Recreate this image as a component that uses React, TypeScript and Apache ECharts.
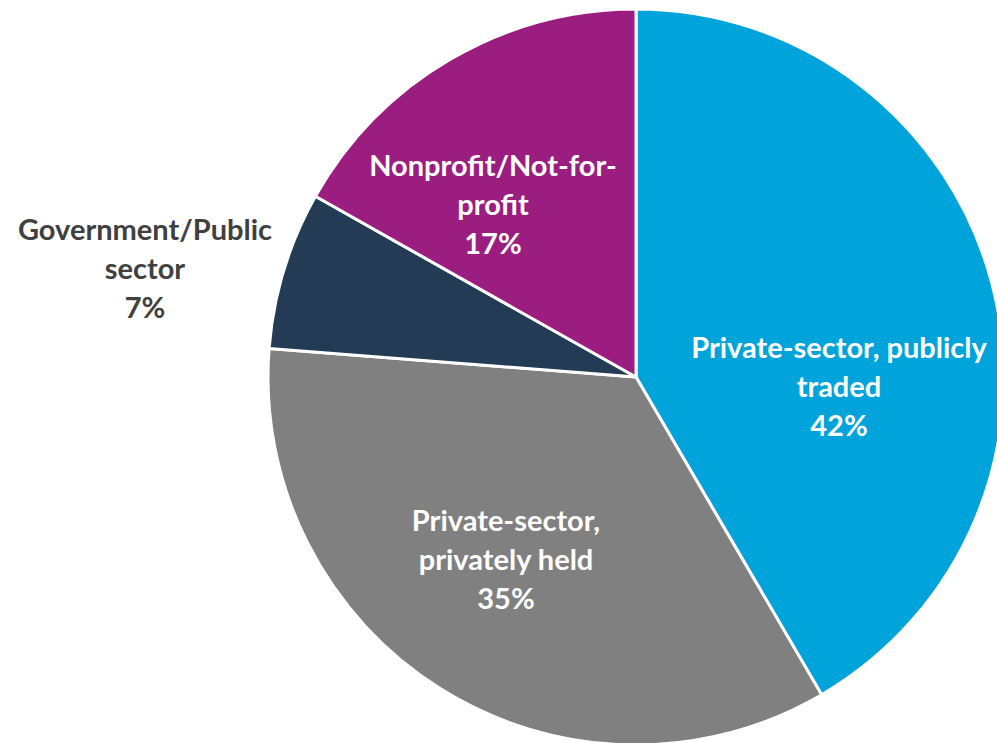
import React, { useEffect, useRef } from "react";
import * as echarts from "echarts";

const categories = [
  "Private-sector, publicly\ntraded",
  "Private-sector,\nprivately held",
  "Government/Public\nsector",
  "Nonprofit/Not-for-\nprofit",
];
const values = [42, 35, 7, 17];
const colors = ["#00A3DA", "#808080", "#243B55", "#9B1D7F"];
const labelColors = ["#FFFFFF", "#FFFFFF", "#404040", "#FFFFFF"];
const labelPos: [number, number][] = [
  [839, 385],
  [506, 558],
  [145, 267],
  [493, 203],
];

export default function App() {
  const ref = useRef<HTMLDivElement>(null);
  useEffect(() => {
    if (!ref.current) return;
    const chart = echarts.init(ref.current, undefined, { renderer: "svg" });
    chart.setOption({
      animation: false,
      backgroundColor: "#FFFFFF",
      series: [
        {
          type: "pie",
          center: [636, 377],
          radius: [0, 368],
          startAngle: 90,
          clockwise: true,
          data: categories.map((c, i) => ({
            name: c,
            value: values[i],
            itemStyle: { color: colors[i] },
            label: { color: labelColors[i] },
          })),
          itemStyle: { borderColor: "#FFFFFF", borderWidth: 3 },
          label: {
            show: true,
            position: "inside",
            formatter: (p: any) => `${p.name}\n${p.value}%`,
            fontFamily: "Lato, 'Open Sans', sans-serif",
            fontWeight: "bold",
            fontSize: 29,
            lineHeight: 39,
            align: "center",
          },
          labelLine: { show: false },
          labelLayout: (params: any) => {
            const pos = labelPos[params.dataIndex];
            return { x: pos[0], y: pos[1], align: "center", verticalAlign: "middle" };
          },
          emphasis: { disabled: true },
        },
      ],
    });
    return () => chart.dispose();
  }, []);
  return (
    <div
      ref={ref}
      style={{ position: "fixed", left: 0, top: 0, width: 997, height: 743 }}
    />
  );
}
